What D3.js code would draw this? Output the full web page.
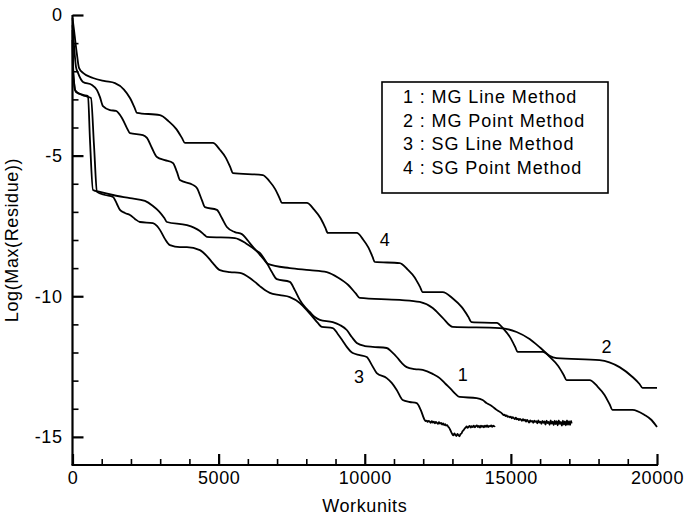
<!DOCTYPE html>
<html>
<head>
<meta charset="utf-8">
<script src="https://cdn.jsdelivr.net/npm/d3@7"></script>
<style>
  html, body { margin: 0; padding: 0; background: #fff; }
  svg { display: block; }
  text { font-family: "Liberation Sans", Arial, Helvetica, sans-serif; fill: #000; }
</style>
</head>
<body>
<svg id="chart" width="686" height="519"></svg>
<script>
// ---------- data ----------
const seriesNames = ["1 : MG Line Method", "2 : MG Point Method", "3 : SG Line Method", "4 : SG Point Method"];
const seriesTags = ["1", "2", "3", "4"];

// [workunits, log10(max residue)]
const mgLine = [
  [0,-0.36],[51,-1.07],[120,-1.85],[188,-2.06],[359,-2.38],[667,-2.49],[838,-2.67],[940,-2.92],[1043,-3.24],[1282,-3.38],
  [1487,-3.41],[1692,-3.66],[1863,-4.02],[1966,-4.20],[2410,-4.27],[2547,-4.37],[2718,-4.73],[2889,-5.05],[3162,-5.16],
  [3436,-5.26],[3573,-5.58],[3675,-5.87],[4120,-6.04],[4256,-6.15],[4427,-6.58],[4530,-6.83],[4940,-6.93],[5111,-7.22],
  [5282,-7.54],[5556,-7.72],[5795,-7.79],[5932,-7.93],[6068,-8.11],[6274,-8.36],[6410,-8.46],[6650,-8.82],[6821,-9.14],
  [6991,-9.39],[7436,-9.49],[7607,-9.78],[7778,-10.13],[7949,-10.38],[8120,-10.56],[8291,-10.74],[8462,-10.84],[8906,-10.92],
  [9145,-11.02],[9385,-11.20],[9556,-11.45],[9727,-11.66],[10000,-11.77],[10274,-11.80],[10752,-11.84],[10923,-11.98],
  [11094,-12.16],[11265,-12.37],[11436,-12.52],[11709,-12.59],[11983,-12.62],[12325,-12.76],[12564,-12.91],[12769,-13.12],
  [12974,-13.33],[13111,-13.48],[13248,-13.58],[13829,-13.62],[14034,-13.69],[14171,-13.80],[14342,-13.90],[14513,-14.04],
  [14718,-14.19],[14750,-14.23],[14785,-14.21],[14820,-14.26],[14855,-14.24],[14890,-14.29],[14925,-14.27],[14960,-14.31],
  [14995,-14.28],[15030,-14.34],[15065,-14.30],[15100,-14.33],[15135,-14.37],[15170,-14.32],[15205,-14.38],[15240,-14.35],
  [15275,-14.40],[15310,-14.36],[15345,-14.39],[15380,-14.43],[15415,-14.37],[15450,-14.42],[15485,-14.39],[15520,-14.46],
  [15555,-14.40],[15590,-14.44],[15625,-14.49],[15660,-14.41],[15695,-14.46],[15730,-14.43],[15765,-14.50],[15800,-14.42],
  [15835,-14.47],[15870,-14.44],[15905,-14.52],[15940,-14.41],[15975,-14.49],[16010,-14.46],[16045,-14.54],[16080,-14.43],
  [16115,-14.50],[16150,-14.45],[16185,-14.56],[16220,-14.42],[16255,-14.51],[16290,-14.47],[16325,-14.57],[16360,-14.41],
  [16395,-14.53],[16430,-14.46],[16465,-14.58],[16500,-14.42],[16535,-14.55],[16570,-14.44],[16605,-14.59],[16640,-14.41],
  [16675,-14.54],[16710,-14.47],[16745,-14.60],[16780,-14.42],[16815,-14.56],[16850,-14.45],[16885,-14.59],[16920,-14.41],
  [16955,-14.57],[16990,-14.44],[17025,-14.58],[17060,-14.43],[17080,-14.52]
];
const mgPoint = [
  [0,-0.53],[17,-1.60],[51,-2.38],[120,-2.74],[359,-2.84],[530,-2.88],[598,-4.44],[701,-6.22],[940,-6.29],[1385,-6.40],
  [1966,-6.51],[2479,-6.61],[2742,-6.78],[2968,-6.99],[3142,-7.22],[3231,-7.36],[3915,-7.47],[4154,-7.56],[4359,-7.68],
  [4516,-7.82],[4598,-7.89],[5556,-7.93],[5949,-8.13],[6291,-8.39],[6547,-8.69],[6684,-8.85],[7436,-9.00],[8120,-9.07],
  [8701,-9.14],[9094,-9.34],[9436,-9.60],[9692,-9.90],[9829,-10.06],[11197,-10.13],[11880,-10.20],[12325,-10.42],
  [12667,-10.77],[13009,-11.09],[14615,-11.13],[15197,-11.27],[15641,-11.52],[16017,-11.84],[16325,-12.12],[16564,-12.20],
  [18034,-12.27],[18718,-12.52],[19162,-12.87],[19402,-13.12],[19504,-13.26],[20000,-13.26]
];
const sgLine = [
  [0,-0.89],[17,-1.96],[51,-2.38],[85,-2.67],[256,-2.81],[427,-2.88],[632,-2.95],[735,-4.62],[838,-6.29],[1111,-6.40],
  [1385,-6.47],[1521,-6.72],[1624,-6.93],[1795,-7.04],[1966,-7.11],[2137,-7.25],[2308,-7.36],[2752,-7.40],[2889,-7.50],
  [2991,-7.64],[3162,-7.96],[3333,-8.18],[3675,-8.25],[3915,-8.25],[4359,-8.36],[4598,-8.57],[4803,-8.82],[5043,-9.07],
  [5385,-9.14],[5727,-9.17],[6068,-9.35],[6239,-9.49],[6410,-9.64],[6581,-9.78],[6752,-9.88],[7094,-9.96],[7436,-10.03],
  [7778,-10.24],[8017,-10.49],[8222,-10.74],[8393,-10.95],[8530,-11.09],[8906,-11.13],[9077,-11.34],[9248,-11.59],
  [9385,-11.80],[9590,-12.02],[9829,-12.09],[10068,-12.16],[10239,-12.44],[10410,-12.73],[10752,-12.91],[10923,-13.08],
  [11094,-13.33],[11299,-13.69],[11538,-13.76],[11778,-13.80],[11915,-14.04],
  [12051,-14.40],[12085,-14.44],[12120,-14.42],[12155,-14.47],[12190,-14.43],[12225,-14.46],[12260,-14.50],[12295,-14.44],
  [12330,-14.49],[12365,-14.46],[12400,-14.52],[12435,-14.47],[12470,-14.50],[12505,-14.54],[12540,-14.48],[12575,-14.53],
  [12610,-14.50],[12645,-14.56],[12680,-14.52],[12715,-14.58],[12750,-14.55],[12785,-14.60],[12820,-14.58],[12855,-14.64],
  [12890,-14.68],[12925,-14.75],[12960,-14.83],[12995,-14.90],[13030,-14.95],[13065,-14.88],[13100,-14.93],[13135,-14.97],
  [13170,-14.89],[13205,-14.94],[13240,-14.98],[13275,-14.90],[13310,-14.88],[13345,-14.80],[13380,-14.76],[13415,-14.71],
  [13450,-14.67],[13485,-14.63],[13520,-14.68],[13555,-14.64],[13590,-14.61],[13625,-14.67],[13660,-14.62],[13695,-14.65],
  [13730,-14.60],[13765,-14.66],[13800,-14.62],[13835,-14.59],[13870,-14.65],[13905,-14.61],[13940,-14.67],[13975,-14.60],
  [14010,-14.64],[14045,-14.61],[14080,-14.66],[14115,-14.60],[14150,-14.64],[14185,-14.59],[14220,-14.65],[14255,-14.61],
  [14290,-14.63],[14325,-14.59],[14360,-14.64],[14395,-14.60],[14430,-14.63],[14460,-14.61]
];
const sgPoint = [
  [0,-0.11],[51,-0.53],[154,-1.42],[222,-1.88],[359,-2.06],[701,-2.24],[1111,-2.35],[1453,-2.42],[1761,-2.65],[1966,-2.95],
  [2123,-3.29],[2205,-3.48],[2991,-3.56],[3291,-3.78],[3547,-4.05],[3744,-4.37],[3846,-4.55],
  [4803,-4.55],[5043,-4.79],[5248,-5.08],[5405,-5.43],[5487,-5.62],
  [6513,-5.69],[6740,-5.91],[6935,-6.19],[7084,-6.51],[7162,-6.68],
  [8017,-6.68],[8268,-6.92],[8484,-7.22],[8650,-7.56],[8735,-7.75],
  [9727,-7.75],[9942,-7.98],[10127,-8.27],[10267,-8.60],[10342,-8.78],
  [11197,-8.82],[11470,-9.05],[11709,-9.33],[11887,-9.66],[11983,-9.85],
  [12667,-9.85],[13014,-10.08],[13312,-10.38],[13538,-10.72],[13658,-10.92],
  [14513,-10.95],[14764,-11.18],[14980,-11.47],[15146,-11.80],[15231,-11.98],
  [16085,-11.98],[16373,-12.20],[16619,-12.48],[16807,-12.80],[16906,-12.98],
  [17692,-12.98],[17966,-13.21],[18205,-13.51],[18383,-13.85],[18479,-14.04],
  [19162,-14.04],[19573,-14.22],[19812,-14.40],[20000,-14.65]
];
// where each curve's number label sits: [workunits, value]
const tagPositions = [[13350,-12.80],[18270,-11.80],[9800,-12.87],[10685,-8.00]];

const xMajorTicks = [0, 5000, 10000, 15000, 20000];
const xMinorTicks = [1000,2000,3000,4000,6000,7000,8000,9000,11000,12000,13000,14000,16000,17000,18000,19000];
const yMajorTicks = [0, -5, -10, -15];
const yMinorTicks = [-1,-2,-3,-4,-6,-7,-8,-9,-11,-12,-13,-14];
const xTitle = "Workunits";
const yTitle = "Log(Max(Residue))";

// ---------- drawing ----------
const svg = d3.select("#chart");
const x = d3.scaleLinear().domain([0, 20000]).range([72.5, 657]);
const y = d3.scaleLinear().domain([-16, 0]).range([465, 15]);

const fontSize = 18;

// minor ticks
svg.append("g").attr("transform", `translate(0,${y(-16)})`)
  .call(d3.axisBottom(x).tickValues(xMinorTicks).tickSize(-6).tickSizeOuter(0).tickFormat(""))
  .call(g => g.select(".domain").remove())
  .call(g => g.selectAll("line").attr("stroke", "#000").attr("stroke-width", 1.6));
svg.append("g").attr("transform", `translate(${x(0)},0)`)
  .call(d3.axisLeft(y).tickValues(yMinorTicks).tickSize(-6).tickSizeOuter(0).tickFormat(""))
  .call(g => g.select(".domain").remove())
  .call(g => g.selectAll("line").attr("stroke", "#000").attr("stroke-width", 1.6));

// major ticks with labels
const xAxis = svg.append("g").attr("transform", `translate(0,${y(-16)})`)
  .call(d3.axisBottom(x).tickValues(xMajorTicks).tickSize(-11).tickSizeOuter(0).tickPadding(6).tickFormat(d3.format("d")));
const yAxis = svg.append("g").attr("transform", `translate(${x(0)},0)`)
  .call(d3.axisLeft(y).tickValues(yMajorTicks).tickSize(-11).tickSizeOuter(0).tickPadding(10).tickFormat(d => d3.format("d")(d).replace("−", "-")));
[xAxis, yAxis].forEach(a => {
  a.select(".domain").remove();
  a.selectAll("line").attr("stroke", "#000").attr("stroke-width", 2.2);
  a.selectAll("text").attr("font-size", fontSize).attr("letter-spacing", 0.6)
    .attr("font-family", '"Liberation Sans", Arial, Helvetica, sans-serif').attr("fill", "#000");
});

// axis lines
svg.append("line").attr("x1", x(0)).attr("x2", x(0)).attr("y1", y(0)).attr("y2", y(-16))
  .attr("stroke", "#000").attr("stroke-width", 2.2);
svg.append("line").attr("x1", x(0) - 1).attr("x2", x(20000) + 1).attr("y1", y(-16)).attr("y2", y(-16))
  .attr("stroke", "#000").attr("stroke-width", 2.2);

// titles
svg.append("text").attr("x", (x(0) + x(20000)) / 2).attr("y", 512)
  .attr("text-anchor", "middle").attr("font-size", fontSize).attr("letter-spacing", 0.6).text(xTitle);
svg.append("text").attr("transform", `translate(18,${(y(0) + y(-16)) / 2}) rotate(-90)`)
  .attr("text-anchor", "middle").attr("font-size", fontSize).attr("letter-spacing", 0.6).text(yTitle);

// curves
const line = d3.line().x(d => x(d[0])).y(d => y(d[1])).curve(d3.curveMonotoneX);
const allSeries = [mgLine, mgPoint, sgLine, sgPoint];
svg.append("g").selectAll("path").data(allSeries).join("path")
  .attr("d", line).attr("fill", "none").attr("stroke", "#000")
  .attr("stroke-width", 1.8).attr("stroke-linejoin", "round");

// curve number labels
svg.append("g").selectAll("text").data(tagPositions).join("text")
  .attr("x", d => x(d[0])).attr("y", d => y(d[1]))
  .attr("text-anchor", "middle").attr("dy", "0.36em").attr("font-size", fontSize)
  .text((d, i) => seriesTags[i]);

// legend
const legend = svg.append("g");
legend.append("rect").attr("x", 382).attr("y", 82).attr("width", 226).attr("height", 111)
  .attr("fill", "#fff").attr("stroke", "#000").attr("stroke-width", 1.6);
legend.selectAll("text").data(seriesNames).join("text")
  .attr("x", 403).attr("y", (d, i) => 103 + i * 23.7)
  .attr("font-size", fontSize).attr("letter-spacing", 0.9).text(d => d);
</script>
</body>
</html>
